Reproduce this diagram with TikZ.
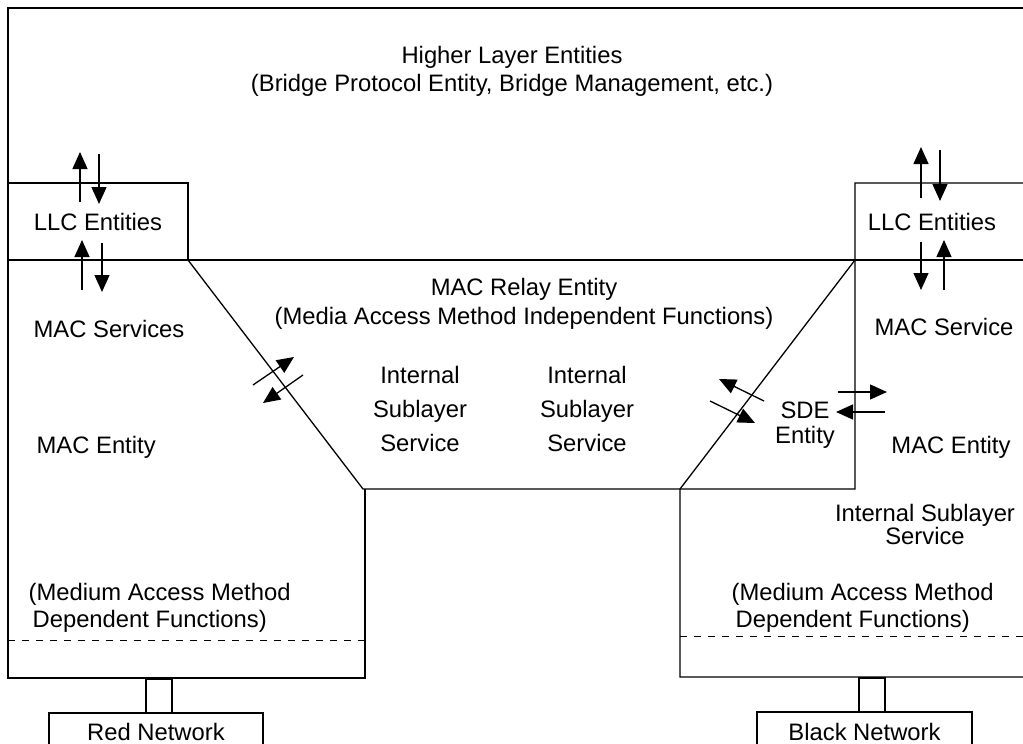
\documentclass[tikz,border=0pt]{standalone}
\usepackage{fontspec}
\setmainfont{Liberation Sans}
\usetikzlibrary{arrows.meta}
\begin{document}
\begin{tikzpicture}[x=1pt,y=-1pt,line width=1.3pt,
  lbl/.style={inner sep=0pt,font=\fontsize{23.8}{28}\selectfont,align=center},
  frame/.style={line width=1.3pt},
  flow/.style={line width=1.3pt,-{Triangle[width=15pt,length=17pt]}},
  netbox/.style={draw,line width=1.3pt}]
\useasboundingbox (0,0) rectangle (1023,744);
\clip (0,0) rectangle (1023,744);
% outer frame
\draw[frame] (1023,8) -- (8,8) -- (8,678) -- (365,678) -- (365,489);
% left LLC box
\node[draw,frame,minimum width=180pt,minimum height=77pt,inner sep=0pt] (llcL) at (98,221.5) {};
\node[lbl] (llcLt) at (98,222) {LLC Entities};
% relay trapezoid
\draw[frame] (188,260) -- (855,260);
\draw[frame] (188,260) -- (363,489) -- (855,489) -- (855,183) -- (1023,183);
\draw[frame] (855,260) -- (680,489) -- (680,677) -- (1023,677);
\draw[frame] (855,260) -- (1023,260);
% dashed lines
\draw[dashed,dash pattern=on 7pt off 7pt,line width=1pt] (8,640) -- (365,640);
\draw[dashed,dash pattern=on 7pt off 7pt,line width=1pt] (680,636) -- (1023,636);
% network connectors
\node[netbox,minimum width=26pt,minimum height=34pt,inner sep=0pt] (conL) at (159,696) {};
\node[netbox,minimum width=214pt,minimum height=50pt,inner sep=0pt] (redN) at (156,738) {};
\node[lbl] at (156,732) {Red Network};
\node[netbox,minimum width=26pt,minimum height=34pt,inner sep=0pt] (conR) at (872,695) {};
\node[netbox,minimum width=215pt,minimum height=50pt,inner sep=0pt] (blkN) at (864.5,737) {};
\node[lbl] at (864.5,732) {Black Network};
% texts
\node[lbl] (hl) at (512,57) {Higher Layer Entities};
\node[lbl] (hl2) at (512,85) {(Bridge Protocol Entity, Bridge Management, etc.)};
\node[lbl] (llcRt) at (932,222) {LLC Entities};
\node[lbl] (relay) at (524,289) {MAC Relay Entity};
\node[lbl] (relay2) at (524,318) {(Media Access Method Independent Functions)};
\node[lbl,anchor=west] (macsL) at (33,329) {MAC Services};
\node[lbl,anchor=west] (maceL) at (36,447) {MAC Entity};
\node[lbl] (macsR) at (944,327) {MAC Service};
\node[lbl] (maceR) at (951,447) {MAC Entity};
\node[lbl] (isL) at (420,409) {Internal\\[6pt]Sublayer\\[6pt]Service};
\node[lbl] (isM) at (587,409) {Internal\\[6pt]Sublayer\\[6pt]Service};
\node[lbl] (sde) at (805,425) {SDE\\[-3pt]Entity};
\node[lbl] (isR) at (925,524) {Internal Sublayer\\[-5pt]Service};
\node[lbl,align=left,anchor=west] (madL) at (28,608) {(Medium Access Method\\[-1pt]\,Dependent Functions)};
\node[lbl,align=left,anchor=west] (madR) at (731,608) {(Medium Access Method\\[-1pt]\,Dependent Functions)};
% arrow coordinates
\coordinate (a1s) at (80,202); \coordinate (a1e) at (80,152);
\coordinate (a2s) at (99,154); \coordinate (a2e) at (99,204);
\coordinate (a3s) at (82,290); \coordinate (a3e) at (82,240);
\coordinate (a4s) at (102,243); \coordinate (a4e) at (102,292);
\coordinate (b1s) at (921,198); \coordinate (b1e) at (921,147);
\coordinate (b2s) at (940,150); \coordinate (b2e) at (940,201);
\coordinate (b3s) at (921,242); \coordinate (b3e) at (921,290);
\coordinate (b4s) at (944,290); \coordinate (b4e) at (944,240);
\coordinate (c1s) at (253,385); \coordinate (c1e) at (294,357);
\coordinate (c2s) at (303,375); \coordinate (c2e) at (263,403);
\coordinate (d1s) at (764,401); \coordinate (d1e) at (719,379);
\coordinate (d2s) at (710,401); \coordinate (d2e) at (755,423);
\coordinate (e1s) at (838,392); \coordinate (e1e) at (887,392);
\coordinate (e2s) at (885,412); \coordinate (e2e) at (836,412);
\foreach \p in {a1,a2,a3,a4,b1,b2,b3,b4,c1,c2,d1,d2,e1,e2}
  \draw[flow] (\p s) -- (\p e);
\end{tikzpicture}
\end{document}
